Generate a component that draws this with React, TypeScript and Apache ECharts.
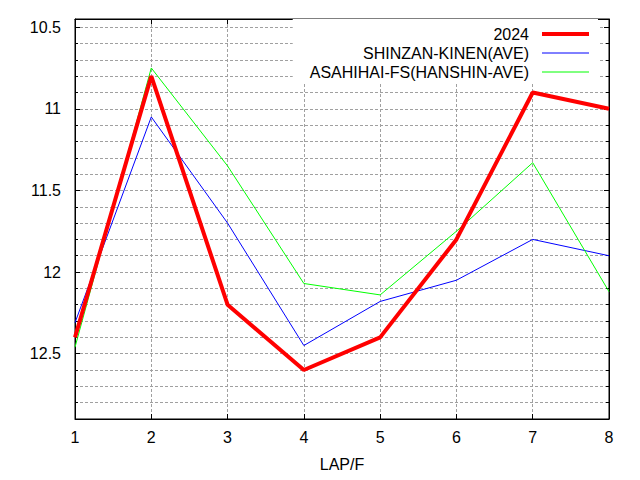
import React, { useEffect, useRef } from "react";
import * as echarts from "echarts";

const laps = [1, 2, 3, 4, 5, 6, 7, 8];
const series2024 = [12.4, 10.8, 12.2, 12.6, 12.4, 11.8, 10.9, 11.0];
const shinzanAve = [12.31, 11.05, 11.7, 12.45, 12.18, 12.05, 11.8, 11.9];
const asahihaiAve = [12.46, 10.75, 11.35, 12.07, 12.14, 11.75, 11.33, 12.12];
const yMajorTicks = [10.5, 11, 11.5, 12, 12.5];
const yMinorTicks = [
  10.5, 10.6, 10.7, 10.8, 10.9, 11, 11.1, 11.2, 11.3, 11.4, 11.5, 11.6, 11.7,
  11.8, 11.9, 12, 12.1, 12.2, 12.3, 12.4, 12.5, 12.6, 12.7, 12.8,
];
const seriesNames = ["2024", "SHINZAN-KINEN(AVE)", "ASAHIHAI-FS(HANSHIN-AVE)"];

const FONT = "Liberation Sans, Arial, sans-serif";
const Y_MIN = 10.45;
const Y_MAX = 12.9;

function pairs(vals: number[]) {
  return laps.map((x, i) => [x, vals[i]]);
}

export default function App() {
  const ref = useRef<HTMLDivElement>(null);
  useEffect(() => {
    if (!ref.current) return;
    const chart = echarts.init(ref.current, null, { renderer: "svg" });
    const gridLine = { show: true, lineStyle: { color: "#a0a0a0", width: 1, type: [3, 2] } };
    const baseY = {
      type: "value",
      inverse: true,
      min: Y_MIN,
      max: Y_MAX,
      axisLine: { show: false },
      axisLabel: { show: false },
      splitLine: { show: false },
    };
    chart.setOption({
      animation: false,
      backgroundColor: "#fff",
      textStyle: { fontFamily: FONT },
      grid: {
        left: 75,
        right: 31,
        top: 19,
        bottom: 61,
        show: true,
        borderColor: "#000",
        borderWidth: 1,
        containLabel: false,
      },
      legend: {
        orient: "vertical",
        right: 42,
        top: 19,
        align: "right",
        backgroundColor: "#fff",
        padding: [7, 7, 4, 17],
        itemWidth: 47,
        itemHeight: 14,
        itemGap: 3,
        itemStyle: { opacity: 0 },
        textStyle: { fontSize: 16, color: "#000", fontFamily: FONT, padding: [0, 8, 0, 0] },
        data: [
          { name: seriesNames[0], lineStyle: { width: 4, color: "#ff0000" } },
          { name: seriesNames[1], lineStyle: { width: 1, color: "#0000ff" } },
          { name: seriesNames[2], lineStyle: { width: 1, color: "#00ff00" } },
        ],
      },
      xAxis: [
        {
          type: "value",
          min: 1,
          max: 8,
          interval: 1,
          position: "bottom",
          name: "LAP/F",
          nameLocation: "middle",
          nameGap: 37,
          nameTextStyle: { fontSize: 16, color: "#000", fontFamily: FONT },
          axisLine: { show: true, lineStyle: { color: "#000", width: 1 } },
          axisTick: { show: true, inside: true, length: 5, lineStyle: { color: "#000" } },
          axisLabel: { fontSize: 16, color: "#000", margin: 10, fontFamily: FONT },
          splitLine: gridLine,
        },
        {
          type: "value",
          min: 1,
          max: 8,
          interval: 1,
          position: "top",
          axisLine: { show: true, lineStyle: { color: "#000", width: 1 } },
          axisTick: { show: true, inside: true, length: 5, lineStyle: { color: "#000" } },
          axisLabel: { show: false },
          splitLine: { show: false },
        },
      ],
      yAxis: [
        {
          ...baseY,
          position: "left",
          axisLine: { show: true, lineStyle: { color: "#000", width: 1 } },
          axisTick: {
            show: true,
            inside: true,
            length: 5,
            lineStyle: { color: "#000" },
            customValues: yMajorTicks,
          },
          axisLabel: {
            show: true,
            fontSize: 16,
            color: "#000",
            margin: 14,
            fontFamily: FONT,
            customValues: yMajorTicks,
          },
        },
        {
          ...baseY,
          position: "left",
          axisTick: {
            show: true,
            inside: true,
            length: 3,
            lineStyle: { color: "#000" },
            customValues: yMinorTicks,
          },
          splitLine: { ...gridLine, customValues: yMinorTicks },
        },
        {
          ...baseY,
          position: "right",
          axisLine: { show: true, lineStyle: { color: "#000", width: 1 } },
          axisTick: {
            show: true,
            inside: true,
            length: 5,
            lineStyle: { color: "#000" },
            customValues: yMajorTicks,
          },
        },
        {
          ...baseY,
          position: "right",
          axisTick: {
            show: true,
            inside: true,
            length: 3,
            lineStyle: { color: "#000" },
            customValues: yMinorTicks,
          },
        },
      ],
      series: [
        {
          name: seriesNames[0],
          type: "line",
          data: pairs(series2024),
          symbol: "none",
          z: 4,
          lineStyle: { color: "#ff0000", width: 4 },
          itemStyle: { color: "#ff0000" },
        },
        {
          name: seriesNames[1],
          type: "line",
          data: pairs(shinzanAve),
          symbol: "none",
          z: 3,
          lineStyle: { color: "#0000ff", width: 1 },
          itemStyle: { color: "#0000ff" },
        },
        {
          name: seriesNames[2],
          type: "line",
          data: pairs(asahihaiAve),
          symbol: "none",
          z: 3,
          lineStyle: { color: "#00ff00", width: 1 },
          itemStyle: { color: "#00ff00" },
        },
      ],
    });
    return () => chart.dispose();
  }, []);
  return (
    <div
      ref={ref}
      style={{ position: "fixed", left: 0, top: 0, width: 640, height: 480, background: "#fff" }}
    />
  );
}
